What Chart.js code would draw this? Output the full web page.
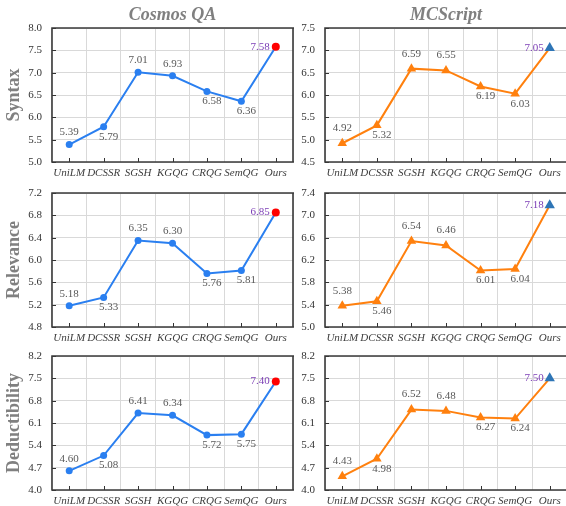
<!DOCTYPE html>
<html lang="en">
<head>
  <meta charset="UTF-8">
  <title>Cosmos QA / MCScript</title>
  <script src="https://cdn.jsdelivr.net/npm/chart.js"></script>
  <style>
    html, body { margin: 0; padding: 0; background: #fff; overflow: hidden; }
    #wrap { position: relative; width: 566px; height: 506px; overflow: hidden; }
    #wrap canvas { position: absolute; }
  </style>
</head>
<body>

<div id="wrap">
  <canvas id="cosmosSyntax"></canvas>
  <canvas id="mcSyntax"></canvas>
  <canvas id="cosmosRelevance"></canvas>
  <canvas id="mcRelevance"></canvas>
  <canvas id="cosmosDeduct"></canvas>
  <canvas id="mcDeduct"></canvas>
</div>

<script>
  // data
  const methods = ["UniLM", "DCSSR", "SGSH", "KGQG", "CRQG", "SemQG", "Ours"];

  const cosmosSyntax = [5.39, 5.79, 7.01, 6.93, 6.58, 6.36, 7.58];
  const cosmosRelevance = [5.18, 5.33, 6.35, 6.30, 5.76, 5.81, 6.85];
  const cosmosDeduct = [4.60, 5.08, 6.41, 6.34, 5.72, 5.75, 7.40];

  const mcSyntax = [4.92, 5.32, 6.59, 6.55, 6.19, 6.03, 7.05];
  const mcRelevance = [5.38, 5.46, 6.54, 6.46, 6.01, 6.04, 7.18];
  const mcDeduct = [4.43, 4.98, 6.52, 6.48, 6.27, 6.24, 7.50];

  // y tick values per panel
  const cosmosSyntaxTicks = [5.0, 5.5, 6.0, 6.5, 7.0, 7.5, 8.0];
  const mcSyntaxTicks = [4.5, 5.0, 5.5, 6.0, 6.5, 7.0, 7.5];
  const cosmosRelevanceTicks = [4.8, 5.2, 5.6, 6.0, 6.4, 6.8, 7.2];
  const mcRelevanceTicks = [5.0, 5.4, 5.8, 6.2, 6.6, 7.0, 7.4];
  const deductTicks = [4.0, 4.7, 5.4, 6.1, 6.8, 7.5, 8.2];

  const SERIF = "'Liberation Serif', 'Times New Roman', serif";
  // where each value label sits relative to its point
  const labelSide = ["top", "bottom", "top", "top", "bottom", "bottom", "left"];

  // frame, inward ticks and value labels
  const panelDecor = {
    id: "panelDecor",
    beforeDatasetsDraw(chart, args, opts) {
      const a = chart.chartArea;
      const ctx = chart.ctx;
      const xs = chart.scales.x, ys = chart.scales.y;
      ctx.save();
      ctx.strokeStyle = "#333";
      ctx.lineWidth = 1;
      ctx.beginPath();
      ys.ticks.forEach(t => {
        const y = Math.round(ys.getPixelForValue(t.value)) + 0.5;
        ctx.moveTo(a.left, y);
        ctx.lineTo(a.left + 4, y);
      });
      methods.forEach((m, i) => {
        const x = Math.round(xs.getPixelForValue(i)) + 0.5;
        ctx.moveTo(x, a.bottom);
        ctx.lineTo(x, a.bottom - 4);
      });
      ctx.stroke();
      ctx.lineWidth = 1.6;
      ctx.strokeStyle = "#3a3a3a";
      ctx.beginPath();
      ctx.moveTo(a.right + 1, a.top);
      ctx.lineTo(a.left, a.top);
      ctx.lineTo(a.left, a.bottom);
      ctx.lineTo(a.right + 1, a.bottom);
      if (opts.frameRight) {
        ctx.moveTo(a.right, a.top);
        ctx.lineTo(a.right, a.bottom);
      }
      ctx.stroke();
      ctx.restore();
    },
    afterDatasetsDraw(chart, args, opts) {
      const ctx = chart.ctx;
      const meta = chart.getDatasetMeta(0);
      const values = chart.data.datasets[0].data;
      ctx.save();
      ctx.font = "11px " + SERIF;
      ctx.textBaseline = "middle";
      meta.data.forEach((pt, i) => {
        const txt = values[i].toFixed(2);
        const side = labelSide[i];
        if (side === "top") {
          ctx.fillStyle = "#595959";
          ctx.textAlign = "center";
          ctx.fillText(txt, pt.x, pt.y - opts.gap);
        } else if (side === "bottom") {
          ctx.fillStyle = "#595959";
          ctx.textAlign = "center";
          ctx.fillText(txt, pt.x + 5, pt.y + 10);
        } else {
          ctx.fillStyle = "#7b3db5";
          ctx.textAlign = "right";
          ctx.fillText(txt, pt.x - 6, pt.y);
        }
      });
      ctx.restore();
    }
  };

  function makePanel(id, left, top, cfg) {
    const el = document.getElementById(id);
    const width = cfg.right ? 280 : 300;
    el.width = width;
    el.height = 182;
    el.style.left = left + "px";
    el.style.top = top + "px";

    const n = cfg.values.length;
    const markColors = cfg.values.map((v, i) => i === n - 1 ? cfg.oursColor : cfg.lineColor);
    const radii = cfg.values.map((v, i) => i === n - 1 ? cfg.radius + 0.5 : cfg.radius);

    return new Chart(el, {
      type: "line",
      data: {
        labels: methods,
        datasets: [{
          data: cfg.values,
          borderColor: cfg.lineColor,
          borderWidth: 2,
          pointStyle: cfg.right ? "triangle" : "circle",
          pointRadius: radii,
          pointBackgroundColor: markColors,
          pointBorderColor: markColors,
          pointBorderWidth: 0,
          tension: 0,
          fill: false
        }]
      },
      options: {
        responsive: false,
        animation: false,
        layout: {
          autoPadding: false,
          padding: { top: cfg.title ? 0 : 28, right: cfg.right ? 3 : 7, left: 0, bottom: 0 }
        },
        plugins: {
          legend: { display: false },
          tooltip: { enabled: false },
          title: {
            display: !!cfg.title,
            text: cfg.title,
            fullSize: false,
            color: "#808080",
            font: { family: SERIF, size: 18, weight: "bold", style: "italic" },
            padding: { top: 5, bottom: 1.4 }
          },
          panelDecor: { gap: cfg.right ? 15 : 12, frameRight: !cfg.right }
        },
        scales: {
          x: {
            offset: true,
            grid: { color: "#d9d9d9", drawTicks: false, offset: true },
            border: { display: false },
            ticks: {
              color: "#404040",
              font: { family: SERIF, size: 11, style: "italic" },
              padding: 5,
              maxRotation: 0,
              autoSkip: false
            },
            afterFit: s => { s.height = 20; s.paddingLeft = 0; s.paddingRight = 0; }
          },
          y: {
            min: cfg.ticks[0],
            max: cfg.ticks[cfg.ticks.length - 1],
            afterBuildTicks: s => { s.ticks = cfg.ticks.map(v => ({ value: v })); },
            grid: { color: "#d9d9d9", drawTicks: false },
            border: { display: false },
            ticks: {
              color: "#333",
              font: { family: SERIF, size: 11 },
              padding: 10,
              callback: v => Number(v).toFixed(1)
            },
            title: {
              display: !!cfg.yTitle,
              text: cfg.yTitle,
              color: "#808080",
              font: { family: SERIF, size: 18, weight: "bold" },
              padding: { top: 4, bottom: 0 }
            },
            afterFit: s => { s.width = cfg.right ? 35 : 52; }
          }
        }
      },
      plugins: [panelDecor]
    });
  }

  const blue = "#2a7ff0";
  const orange = "#ff800e";

  makePanel("cosmosSyntax", 0, 0, { values: cosmosSyntax, ticks: cosmosSyntaxTicks, title: "Cosmos QA", yTitle: "Syntax", lineColor: blue, oursColor: "#ff0000", radius: 3.5 });
  makePanel("mcSyntax", 290, 0, { values: mcSyntax, ticks: mcSyntaxTicks, title: "MCScript", right: true, lineColor: orange, oursColor: "#2e75b6", radius: 5.5 });
  makePanel("cosmosRelevance", 0, 165, { values: cosmosRelevance, ticks: cosmosRelevanceTicks, yTitle: "Relevance", lineColor: blue, oursColor: "#ff0000", radius: 3.5 });
  makePanel("mcRelevance", 290, 165, { values: mcRelevance, ticks: mcRelevanceTicks, right: true, lineColor: orange, oursColor: "#2e75b6", radius: 5.5 });
  makePanel("cosmosDeduct", 0, 328, { values: cosmosDeduct, ticks: deductTicks, yTitle: "Deductibility", lineColor: blue, oursColor: "#ff0000", radius: 3.5 });
  makePanel("mcDeduct", 290, 328, { values: mcDeduct, ticks: deductTicks, right: true, lineColor: orange, oursColor: "#2e75b6", radius: 5.5 });
</script>

</body>
</html>
